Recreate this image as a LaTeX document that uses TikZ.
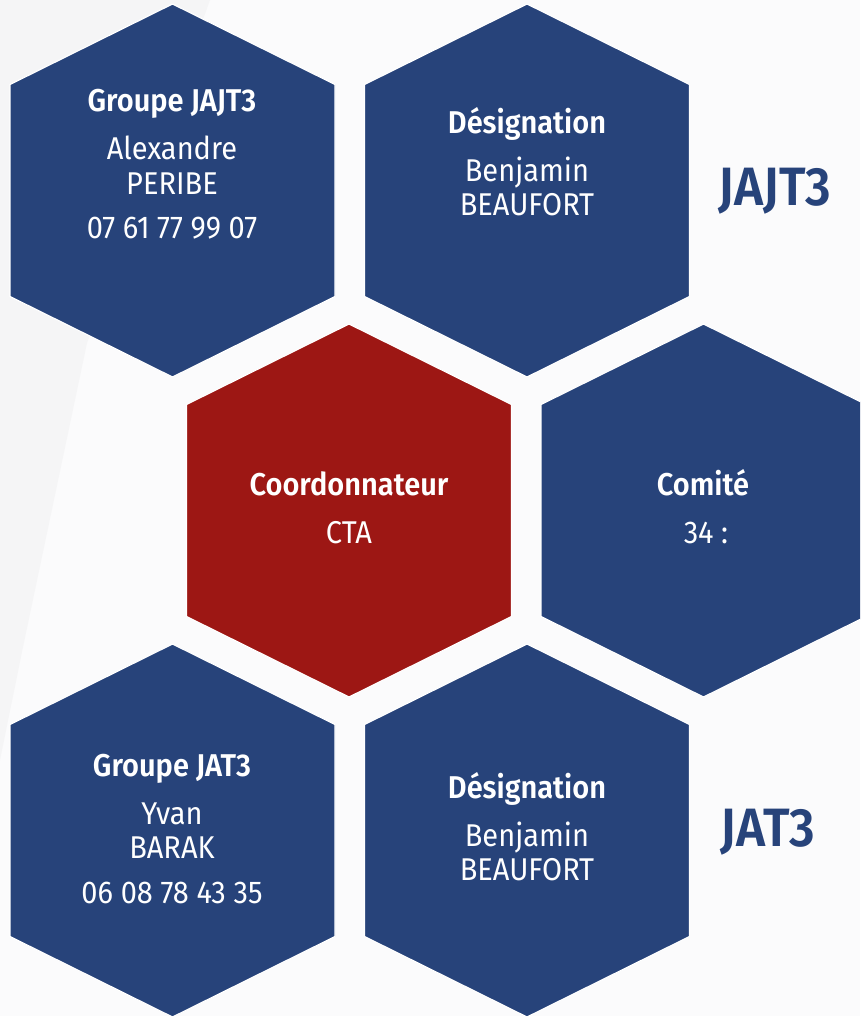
\documentclass[tikz,border=0pt]{standalone}
\usepackage{fontspec}
\setmainfont{Fira Sans}[FakeStretch=0.92, BoldFont={Fira Sans SemiBold}]
\definecolor{bleuhex}{HTML}{27437A}
\definecolor{rougehex}{HTML}{9D1714}
\definecolor{fond}{HTML}{FBFBFC}
\definecolor{fondgris}{HTML}{F5F5F6}

\tikzset{
  hexa/.style={fill=#1, draw=white, line width=1.2pt, line join=miter},
  titre/.style={anchor=base, text=white, font=\fontsize{31.5}{34}\selectfont\bfseries},
  texte/.style={anchor=base, text=white, font=\fontsize{31.5}{34}\selectfont},
  sigle/.style={anchor=base, text=bleuhex, font=\fontsize{54}{60}\selectfont\bfseries},
}
% hexagone : nom, x, y, couleur
\newcommand{\hexagone}[4]{%
  \path[hexa=#4] (#2,#3) coordinate (#1) ++(0,-186.5) -- ++(162.5,80.5) -- ++(0,212)
    -- ++(-162.5,80.5) -- ++(-162.5,-80.5) -- ++(0,-212) -- cycle;}

\begin{document}
\begin{tikzpicture}[x=1pt, y=-1pt]
  \useasboundingbox (0,0) rectangle (860,1016);
  \clip (0,0) rectangle (860,1016);
  \fill[fond] (0,0) rectangle (860,1016);
  \fill[fondgris] (0,0) -- (210,0) -- (87,343) -- (23,647) -- (0,760) -- cycle;

  % les hexagones
  \hexagone{grpA}{172.5}{190.5}{bleuhex}
  \hexagone{desA}{527}{190.5}{bleuhex}
  \hexagone{coord}{349}{510.5}{rougehex}
  \hexagone{comite}{703.5}{510.5}{bleuhex}
  \hexagone{grpB}{172.5}{830.5}{bleuhex}
  \hexagone{desB}{527}{830.5}{bleuhex}

  % textes
  \node[titre] (tgA) at (172,112) {Groupe JAJT3};
  \node[texte] (nomA) at (172,160) {Alexandre};
  \node[texte] (preA) at (172,195) {PERIBE};
  \node[texte] (telA) at (172,239) {07 61 77 99 07};

  \node[titre] (tdA) at (527,134) {Désignation};
  \node[texte] (ndA) at (527,182) {Benjamin};
  \node[texte] (pdA) at (527,216) {BEAUFORT};

  \node[titre] (tco) at (349,495) {Coordonnateur};
  \node[texte] (cta) at (349,543) {CTA};

  \node[titre] (tcm) at (703,495) {Comité};
  \node[texte] (num) at (706,543) {34 :};

  \node[titre] (tgB) at (172,776) {Groupe JAT3};
  \node[texte] (nomB) at (172,824) {Yvan};
  \node[texte] (preB) at (172,858) {BARAK};
  \node[texte] (telB) at (172,903) {06 08 78 43 35};

  \node[titre] (tdB) at (527,798) {Désignation};
  \node[texte] (ndB) at (527,846) {Benjamin};
  \node[texte] (pdB) at (527,880) {BEAUFORT};

  \node[sigle] (jajt) at (775,206) {JAJT3};
  \node[sigle] (jat) at (768,846) {JAT3};
\end{tikzpicture}
\end{document}
